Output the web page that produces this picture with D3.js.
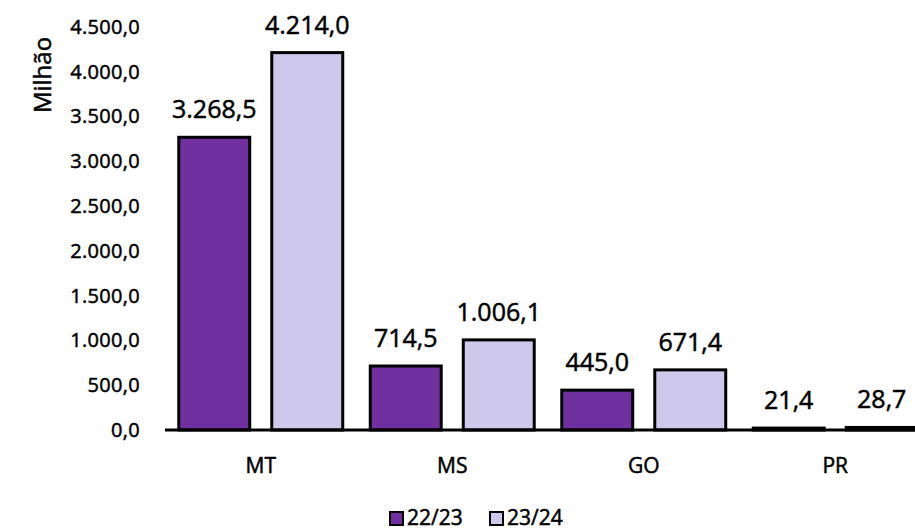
<!DOCTYPE html>
<html>
<head>
<meta charset="utf-8">
<script src="https://cdn.jsdelivr.net/npm/d3@7"></script>
<style>
  body { margin: 0; background: #fff; }
  text { font-family: "Open Sans", "Noto Sans", sans-serif; fill: #000; stroke: #000; stroke-width: 0.5px; }
</style>
</head>
<body>
<div id="chart"></div>
<script>
// data
const categories = ["MT", "MS", "GO", "PR"];
const seriesNames = ["22/23", "23/24"];
const values2223 = [3268.5, 714.5, 445.0, 21.4];
const values2324 = [4214.0, 1006.1, 671.4, 28.7];
const yTicks = [0, 500, 1000, 1500, 2000, 2500, 3000, 3500, 4000, 4500];
const colors = ["#7030a0", "#cdc8ec"];

const width = 915, height = 530;
const br = d3.formatLocale({ decimal: ",", thousands: ".", grouping: [3], currency: ["R$", ""] });
const fmt = br.format(",.1f");

const svg = d3.select("#chart").append("svg")
  .attr("width", width)
  .attr("height", height);

const rows = categories.map((c, i) => ({ cat: c, vals: [values2223[i], values2324[i]] }));

const x0 = d3.scaleBand().domain(categories).range([165, 931]);
const x1 = d3.scaleBand().domain(seriesNames).range([0, x0.bandwidth()])
  .paddingInner(0.237).paddingOuter(0.148);
const y = d3.scaleLinear().domain([0, 4500]).range([430, 27]);

// y axis labels only (no line, no ticks)
const yAxis = svg.append("g")
  .attr("transform", "translate(140,0)")
  .call(d3.axisLeft(y).tickValues(yTicks).tickFormat(fmt).tickSize(0).tickPadding(0));
yAxis.select(".domain").remove();
yAxis.selectAll("text")
  .style("font-family", "'Open Sans', 'Noto Sans', sans-serif")
  .style("font-size", "20px")
  .style("letter-spacing", "0.3px")
  .attr("fill", "#000");

svg.append("text")
  .attr("transform", "translate(51,75) rotate(-90)")
  .attr("text-anchor", "middle")
  .style("font-size", "24px")
  .text("Milhão");

// bars
const groups = svg.selectAll(".cat")
  .data(rows)
  .enter()
  .append("g")
  .attr("class", "cat")
  .attr("transform", d => "translate(" + x0(d.cat) + ",0)");

groups.selectAll("rect")
  .data(d => d.vals.map((v, i) => ({ s: seriesNames[i], v: v, i: i })))
  .enter()
  .append("rect")
  .attr("x", d => x1(d.s))
  .attr("width", x1.bandwidth())
  .attr("y", d => y(d.v))
  .attr("height", d => y(0) - y(d.v))
  .attr("fill", d => colors[d.i])
  .attr("stroke", "#000")
  .attr("stroke-width", 3);

groups.selectAll(".val")
  .data(d => d.vals.map((v, i) => ({ s: seriesNames[i], v: v })))
  .enter()
  .append("text")
  .attr("class", "val")
  .attr("x", d => x1(d.s) + x1.bandwidth() / 2)
  .attr("y", d => y(d.v) - 19)
  .attr("text-anchor", "middle")
  .style("font-size", "25px")
  .text(d => fmt(d.v));

// baseline
svg.append("line")
  .attr("x1", 165).attr("x2", width)
  .attr("y1", y(0)).attr("y2", y(0))
  .attr("stroke", "#000")
  .attr("stroke-width", 3);

// category labels
svg.append("g")
  .selectAll("text")
  .data(categories)
  .enter()
  .append("text")
  .attr("x", d => x0(d) + x0.bandwidth() / 2)
  .attr("y", 473)
  .attr("text-anchor", "middle")
  .style("font-size", "21px")
  .text(d => d);

// legend
const legend = svg.append("g").attr("transform", "translate(389,511)");
const item = legend.selectAll(".item")
  .data(seriesNames)
  .enter()
  .append("g")
  .attr("class", "item")
  .attr("transform", (d, i) => "translate(" + i * 100 + ",0)");
item.append("rect")
  .attr("x", 1).attr("y", 1).attr("width", 13).attr("height", 13)
  .attr("fill", (d, i) => colors[i])
  .attr("stroke", "#000")
  .attr("stroke-width", 2);
item.append("text")
  .attr("x", 18)
  .attr("y", 14)
  .style("font-size", "21px")
  .text(d => d);
</script>
</body>
</html>
